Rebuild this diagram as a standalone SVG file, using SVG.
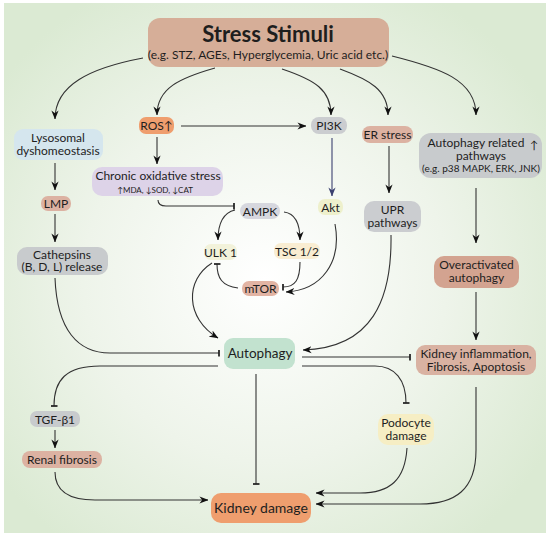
<svg xmlns="http://www.w3.org/2000/svg" width="550" height="538" viewBox="0 0 550 538">
<defs>
<radialGradient id="bg" cx="265" cy="280" r="330" gradientUnits="userSpaceOnUse">
<stop offset="0" stop-color="#ffffff"/>
<stop offset="0.55" stop-color="#eef4ea"/>
<stop offset="1" stop-color="#dbead3"/>
</radialGradient>
<marker id="a" viewBox="0 0 10 8" refX="9.5" refY="4" markerWidth="9" markerHeight="8" orient="auto" markerUnits="userSpaceOnUse">
<path d="M0,0 L10,4 L0,8 L3,4z" fill="#111"/>
</marker>
<marker id="an" viewBox="0 0 10 8" refX="9.5" refY="4" markerWidth="9" markerHeight="8" orient="auto" markerUnits="userSpaceOnUse">
<path d="M0,0 L10,4 L0,8 L3,4z" fill="#3b4070"/>
</marker>
<marker id="t" viewBox="0 0 2 8" refX="1" refY="4" markerWidth="2" markerHeight="7" orient="auto" markerUnits="userSpaceOnUse">
<rect x="0" y="0" width="2" height="8" fill="#222"/>
</marker>
</defs>
<style>
.t{font-family:Lato,"Open Sans",sans-serif;fill:#1e1e1e;text-anchor:middle;font-size:12px}
.c{fill:none;stroke:#333;stroke-width:1.1}
.ar{marker-end:url(#a)}
.in{marker-end:url(#t)}
</style>
<rect x="0" y="0" width="550" height="538" fill="#ffffff"/>
<rect x="4" y="3" width="542" height="530" fill="url(#bg)"/>

<g id="connectors">
<path class="c ar" d="M143,58 C90,68 55,85 55,119"/>
<path class="c ar" d="M215,68 C180,78 157,88 157,115"/>
<path class="c ar" d="M282,69 C315,80 331,90 331,115"/>
<path class="c ar" d="M340,69 C370,80 388,90 388,115"/>
<path class="c ar" d="M392,56 C440,68 476,80 476,115"/>
<path class="c ar" d="M181,126 L306,126"/>
<path class="c ar" d="M157,137 L157,164"/>
<path class="c" style="stroke:#3b4070" marker-end="url(#an)" d="M332,138 L332,196"/>
<path class="c ar" d="M389,146 L389,193"/>
<path class="c ar" d="M476,188 L476,243"/>
<path class="c ar" d="M55,163 L55,190"/>
<path class="c ar" d="M55,214 L55,242"/>
<path class="c in" d="M158,200 Q158,206 166,206 L234,206"/>
<path class="c ar" d="M235,210 Q218,214 218,240"/>
<path class="c ar" d="M284,212 Q300,214 300,240"/>
<path class="c in" d="M300,262 C300,280 295,287 283,287"/>
<path class="c ar" d="M335,224 C342,262 322,290 286,292"/>
<path class="c in" d="M238,288 C222,286 217,278 217,264"/>
<path class="c ar" d="M212,263 C185,280 185,318 218,338"/>
<path class="c ar" d="M391,235 C392,300 372,348 303,350"/>
<path class="c in" d="M55,278 C57,330 78,353 110,353 L219,353"/>
<path class="c in" d="M302,357 L410,357"/>
<path class="c in" d="M218,366 L100,366 C66,366 54,380 54,406"/>
<path class="c in" d="M302,366 L375,366 C395,366 406,380 406,403"/>
<path class="c in" d="M256,374 L256,484"/>
<path class="c ar" d="M55,430 L55,448"/>
<path class="c ar" d="M55,472 C55,492 70,500 95,500 L208,500"/>
<path class="c ar" d="M407,448 C405,480 390,493 360,493 L316,493"/>
<path class="c ar" d="M476,387 L476,450 C476,490 455,504 420,504 L316,504"/>
<path class="c ar" d="M476,292 L476,340"/>
</g>

<g id="stress">
<rect x="148" y="18" width="241" height="49" rx="12" fill="#d6ae98"/>
<text class="t" x="268" y="42" style="font-size:22px;font-weight:bold">Stress Stimuli</text>
<text class="t" x="268" y="59" style="font-size:12px">(e.g. STZ, AGEs, Hyperglycemia, Uric acid etc.)</text>
</g>
<g id="lyso">
<rect x="14" y="129" width="89" height="31" rx="9" fill="#d5e6ee"/>
<text class="t" x="58" y="142">Lysosomal</text>
<text class="t" x="58" y="155">dyshomeostasis</text>
</g>
<g id="ros">
<rect x="139" y="117" width="35" height="17" rx="7" fill="#ef9e6e"/>
<text class="t" x="156.5" y="130">ROS↑</text>
</g>
<g id="pi3k">
<rect x="311" y="117" width="36" height="17" rx="8" fill="#cbcdd0"/>
<text class="t" x="329" y="130">PI3K</text>
</g>
<g id="er">
<rect x="362" y="126" width="51" height="17" rx="8" fill="#dcb2a2"/>
<text class="t" x="387.5" y="139">ER stress</text>
</g>
<g id="arp">
<rect x="419" y="133" width="123" height="45" rx="12" fill="#c8cbcd"/>
<text class="t" x="476" y="147">Autophagy related</text>
<text class="t" x="534" y="149" style="font-size:11px">↑</text>
<text class="t" x="481" y="159.5">pathways</text>
<text class="t" x="481" y="171.5" style="font-size:10px">(e.g. p38 MAPK, ERK, JNK)</text>
</g>
<g id="chronic">
<rect x="92" y="167" width="131" height="29" rx="10" fill="#ddd3e8"/>
<text class="t" x="158" y="180">Chronic oxidative stress</text>
<text class="t" x="155" y="192.5" style="font-size:8px">↑MDA, ↓SOD, ↓CAT</text>
</g>
<g id="lmp">
<rect x="41" y="196" width="30" height="15" rx="7" fill="#dcb2a2"/>
<text class="t" x="56" y="208">LMP</text>
</g>
<g id="ampk">
<rect x="240" y="203" width="40" height="16" rx="8" fill="#d6d7de"/>
<text class="t" x="260" y="215.5">AMPK</text>
</g>
<g id="akt">
<rect x="318" y="199" width="25" height="16" rx="7" fill="#eef0cc"/>
<text class="t" x="330.5" y="211.5">Akt</text>
</g>
<g id="upr">
<rect x="364" y="201" width="57" height="31" rx="10" fill="#cbcdd0"/>
<text class="t" x="392.5" y="214">UPR</text>
<text class="t" x="392.5" y="227">pathways</text>
</g>
<g id="cath">
<rect x="17" y="247" width="91" height="28" rx="10" fill="#c8cbcd"/>
<text class="t" x="62" y="259">Cathepsins</text>
<text class="t" x="62" y="271">(B, D, L) release</text>
</g>
<g id="ulk">
<rect x="204" y="244" width="33" height="16" rx="7" fill="#f2f2da"/>
<text class="t" x="220.5" y="256.5">ULK 1</text>
</g>
<g id="tsc">
<rect x="274" y="243" width="46" height="16" rx="7" fill="#f9edd2"/>
<text class="t" x="297" y="255.5">TSC 1/2</text>
</g>
<g id="mtor">
<rect x="242" y="281" width="37" height="15" rx="7" fill="#e2b4a4"/>
<text class="t" x="260.5" y="293">mTOR</text>
</g>
<g id="over">
<rect x="434" y="256" width="85" height="32" rx="10" fill="#d3a390"/>
<text class="t" x="476.5" y="269">Overactivated</text>
<text class="t" x="476.5" y="282">autophagy</text>
</g>
<g id="autophagy">
<rect x="224" y="338" width="71" height="31" rx="9" fill="#c2e2cf"/>
<text class="t" x="260" y="358" style="font-size:13.5px">Autophagy</text>
</g>
<g id="ki">
<rect x="416" y="345" width="120" height="30" rx="9" fill="#d9b2a2"/>
<text class="t" x="476" y="358">Kidney inflammation,</text>
<text class="t" x="476" y="371">Fibrosis, Apoptosis</text>
</g>
<g id="tgf">
<rect x="30" y="411" width="50" height="16" rx="7" fill="#c8cbcd"/>
<text class="t" x="55" y="423.5">TGF-β1</text>
</g>
<g id="podo">
<rect x="378" y="414" width="56" height="31" rx="10" fill="#f6eec4"/>
<text class="t" x="406" y="427">Podocyte</text>
<text class="t" x="406" y="440">damage</text>
</g>
<g id="renal">
<rect x="22" y="451" width="80" height="17" rx="8" fill="#dcb2a2"/>
<text class="t" x="62" y="464">Renal fibrosis</text>
</g>
<g id="kd">
<rect x="211" y="493" width="100" height="30" rx="10" fill="#ef9e6e"/>
<text class="t" x="261" y="513" style="font-size:14px">Kidney damage</text>
</g>
</svg>
